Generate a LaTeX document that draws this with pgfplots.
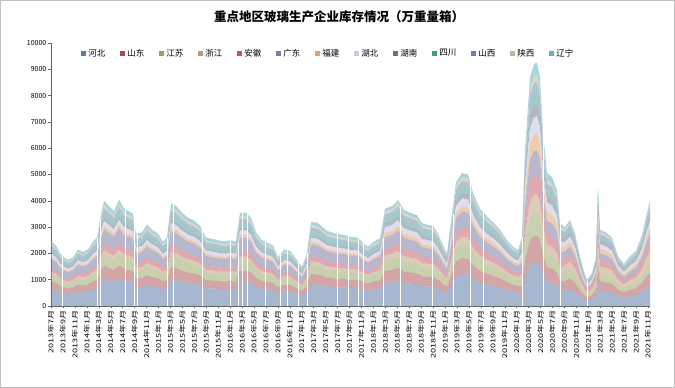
\documentclass[border=0pt]{standalone}
\usepackage{fontspec}
\setmainfont{Noto Sans CJK SC}
\usepackage{graphicx}
\usepackage{pgfplots}
\usepackage{pgfplotstable}
\pgfplotsset{compat=1.18}
\definecolor{hb}{HTML}{5E7BA8}
\definecolor{sd}{HTML}{A94B50}
\definecolor{js}{HTML}{8FA35C}
\definecolor{zj}{HTML}{B59A72}
\definecolor{ah}{HTML}{C8525E}
\definecolor{gd}{HTML}{7C7CA6}
\definecolor{fj}{HTML}{E3A36E}
\definecolor{hub}{HTML}{C9CADF}
\definecolor{hun}{HTML}{6B6B8E}
\definecolor{sc}{HTML}{3F9C8C}
\definecolor{sx}{HTML}{6682B8}
\definecolor{snx}{HTML}{B6BC92}
\definecolor{ln}{HTML}{5FB1C2}
\pgfplotstableread{
x hb sd js zj ah gd fj hub hun sc sx snx ln
51 637 294 245 123 147 343 74 123 74 123 98 74 98
56 598 276 230 115 138 322 69 115 69 115 92 69 92
60 520 240 200 100 120 280 60 100 60 100 80 60 80
64 481 222 185 93 111 259 56 93 56 93 74 56 74
68 455 210 175 88 105 245 53 88 53 88 70 53 70
73 481 222 185 93 111 259 56 93 56 93 74 56 74
78 559 258 215 108 129 301 65 108 65 108 86 65 86
83 533 246 205 103 123 287 62 103 62 103 82 62 82
88 559 258 215 108 129 301 65 108 65 108 86 65 86
93 637 294 245 123 147 343 74 123 74 123 98 74 98
97 676 312 260 130 156 364 78 130 78 130 104 78 104
100 858 396 330 165 198 462 99 165 99 165 132 99 132
104 1040 480 400 200 240 560 120 200 120 200 160 120 160
109 988 456 380 190 228 532 114 190 114 190 152 114 152
114 936 432 360 180 216 504 108 180 108 180 144 108 144
119 1053 486 405 203 243 567 122 203 122 203 162 122 162
124 962 444 370 185 222 518 111 185 111 185 148 111 148
129 936 432 360 180 216 504 108 180 108 180 144 108 144
133 910 420 350 175 210 490 105 175 105 175 140 105 140
136 715 330 275 138 165 385 83 138 83 138 110 83 110
142 728 336 280 140 168 392 84 140 84 140 112 84 112
147 806 372 310 155 186 434 93 155 93 155 124 93 124
152 754 348 290 145 174 406 87 145 87 145 116 87 116
158 715 330 275 138 165 385 83 138 83 138 110 83 110
163 637 294 245 123 147 343 74 123 74 123 98 74 98
167 676 312 260 130 156 364 78 130 78 130 104 78 104
171 1014 468 390 195 234 546 117 195 117 195 156 117 156
176 988 456 380 190 228 532 114 190 114 190 152 114 152
182 923 426 355 178 213 497 107 178 107 178 142 107 142
188 871 402 335 168 201 469 101 168 101 168 134 101 134
194 845 390 325 163 195 455 98 163 98 163 130 98 130
200 793 366 305 153 183 427 92 153 92 153 122 92 122
206 676 312 260 130 156 364 78 130 78 130 104 78 104
212 663 306 255 128 153 357 77 128 77 128 102 77 102
218 650 300 250 125 150 350 75 125 75 125 100 75 100
224 637 294 245 123 147 343 74 123 74 123 98 74 98
230 650 300 250 125 150 350 75 125 75 125 100 75 100
236 637 294 245 123 147 343 74 123 74 123 98 74 98
240 923 426 355 178 213 497 107 178 107 178 142 107 142
246 923 426 355 178 213 497 107 178 107 178 142 107 142
251 871 402 335 168 201 469 101 168 101 168 134 101 134
256 728 336 280 140 168 392 84 140 84 140 112 84 112
262 650 300 250 125 150 350 75 125 75 125 100 75 100
268 624 288 240 120 144 336 72 120 72 120 96 72 96
273 598 276 230 115 138 322 69 115 69 115 92 69 92
278 481 222 185 93 111 259 56 93 56 93 74 56 74
284 559 258 215 108 129 301 65 108 65 108 86 65 86
290 546 252 210 105 126 294 63 105 63 105 84 63 84
296 468 216 180 90 108 252 54 90 54 90 72 54 72
302 390 180 150 75 90 210 45 75 45 75 60 45 60
307 520 240 200 100 120 280 60 100 60 100 80 60 80
311 832 384 320 160 192 448 96 160 96 160 128 96 128
318 819 378 315 158 189 441 95 158 95 158 126 95 126
327 741 342 285 143 171 399 86 143 86 143 114 86 114
336 715 330 275 138 165 385 83 138 83 138 110 83 110
344 702 324 270 135 162 378 81 135 81 135 108 81 108
352 681 314 262 131 157 367 79 131 79 131 105 79 105
358 676 312 260 130 156 364 78 130 78 130 104 78 104
363 624 288 240 120 144 336 72 120 72 120 96 72 96
368 585 270 225 113 135 315 68 113 68 113 90 68 90
374 637 294 245 123 147 343 74 123 74 123 98 74 98
380 671 310 258 129 155 361 77 129 77 129 103 77 103
385 888 444 370 222 259 444 148 222 148 185 148 111 111
392 912 456 380 228 266 456 152 228 152 190 152 114 114
398 967 484 403 242 282 484 161 242 161 202 161 121 121
404 876 438 365 219 256 438 146 219 146 183 146 110 110
411 847 424 353 212 247 424 141 212 141 177 141 106 106
417 828 414 345 207 242 414 138 207 138 173 138 104 104
422 756 378 315 189 221 378 126 189 126 158 126 95 95
428 739 370 308 185 216 370 123 185 123 154 123 92 92
433 732 366 305 183 214 366 122 183 122 153 122 92 92
438 660 330 275 165 193 330 110 165 110 138 110 83 83
443 552 276 230 138 161 276 92 138 92 115 92 69 69
447 480 240 200 120 140 240 80 120 80 100 80 60 60
451 768 384 320 192 224 384 128 192 128 160 128 96 96
456 1128 564 470 282 329 564 188 282 188 235 188 141 141
462 1212 606 505 303 354 606 202 303 202 253 202 152 152
468 1200 600 500 300 350 600 200 300 200 250 200 150 150
473 1032 516 430 258 301 516 172 258 172 215 172 129 129
480 888 444 370 222 259 444 148 222 148 185 148 111 111
487 816 408 340 204 238 408 136 204 136 170 136 102 102
494 756 378 315 189 221 378 126 189 126 158 126 95 95
500 696 348 290 174 203 348 116 174 116 145 116 87 87
507 600 300 250 150 175 300 100 150 100 125 100 75 75
513 540 270 225 135 158 270 90 135 90 113 90 68 68
518 511 256 213 128 149 256 85 128 85 107 85 64 64
522 472 288 236 210 210 262 183 183 131 131 105 79 131
525 1062 649 531 472 472 590 413 413 295 295 236 177 295
530 1566 957 783 696 696 870 609 609 435 435 348 261 435
534 1656 1012 828 736 736 920 644 644 460 460 368 276 460
537 1665 1018 833 740 740 925 648 648 463 463 370 278 463
540 1566 957 783 696 696 870 609 609 435 435 348 261 435
543 1188 726 594 528 528 660 462 462 330 330 264 198 330
547 911 557 455 405 405 506 354 354 253 253 202 152 253
552 882 539 441 392 392 490 343 343 245 245 196 147 245
557 792 484 396 352 352 440 308 308 220 220 176 132 220
560 567 347 284 252 252 315 221 221 158 158 126 95 158
565 600 360 300 300 240 270 180 180 150 120 120 90 90
570 654 392 327 327 262 294 196 196 164 131 131 98 98
575 554 332 277 277 222 249 166 166 139 111 111 83 83
580 374 224 187 187 150 168 112 112 94 75 75 56 56
584 260 156 130 130 104 117 78 78 65 52 52 39 39
587 200 120 100 100 80 90 60 60 50 40 40 30 30
592 250 150 125 125 100 113 75 75 63 50 50 38 38
596 370 222 185 185 148 167 111 111 93 74 74 56 56
598 900 540 450 450 360 405 270 270 225 180 180 135 135
600 580 348 290 290 232 261 174 174 145 116 116 87 87
606 560 336 280 280 224 252 168 168 140 112 112 84 84
612 520 312 260 260 208 234 156 156 130 104 104 78 78
618 380 228 190 190 152 171 114 114 95 76 76 57 57
624 320 192 160 160 128 144 96 96 80 64 64 48 48
630 380 228 190 190 152 171 114 114 95 76 76 57 57
636 420 252 210 210 168 189 126 126 105 84 84 63 63
642 540 324 270 270 216 243 162 162 135 108 108 81 81
646 680 408 340 340 272 306 204 204 170 136 136 102 102
650 800 480 400 400 320 360 240 240 200 160 160 120 120
}\inv
\newcommand\XL[1]{\scalebox{1.4}[1]{#1}}
\begin{document}
\begin{tikzpicture}
\draw[gray!50, line width=0.6pt] (0.3pt,0.3pt) rectangle (674.7pt,387.7pt);
\node[font=\fontsize{12.5}{14}\selectfont\bfseries] at (339pt,371pt) {重点地区玻璃生产企业库存情况（万重量箱）};
\begin{axis}[
  at={(51pt,82pt)}, anchor=south west, scale only axis,
  width=599pt, height=263pt,
  xmin=51, xmax=650, ymin=0, ymax=10000,
  stack plots=y, no markers,
  axis x line*=bottom, axis y line*=left,
  axis line style={-, draw=gray!80!black, line width=0.5pt},
  tick align=outside, major tick length=2.5pt,
  tick style={gray!80!black, line width=0.4pt},
  ytick={0,1000,...,10000}, scaled y ticks=false,
  /pgf/number format/assume math mode=true,
  /pgf/number format/1000 sep={},
  yticklabel style={font=\fontsize{7}{8}\selectfont, inner sep=2pt},
  xtick={51,62.94,...,648.1},
  xticklabels={\XL{2013年7月},\XL{2013年9月},\XL{2013年11月},
  \XL{2014年1月},\XL{2014年3月},\XL{2014年5月},\XL{2014年7月},\XL{2014年9月},\XL{2014年11月},
  \XL{2015年1月},\XL{2015年3月},\XL{2015年5月},\XL{2015年7月},\XL{2015年9月},\XL{2015年11月},
  \XL{2016年1月},\XL{2016年3月},\XL{2016年5月},\XL{2016年7月},\XL{2016年9月},\XL{2016年11月},
  \XL{2017年1月},\XL{2017年3月},\XL{2017年5月},\XL{2017年7月},\XL{2017年9月},\XL{2017年11月},
  \XL{2018年1月},\XL{2018年3月},\XL{2018年5月},\XL{2018年7月},\XL{2018年9月},\XL{2018年11月},
  \XL{2019年1月},\XL{2019年3月},\XL{2019年5月},\XL{2019年7月},\XL{2019年9月},\XL{2019年11月},
  \XL{2020年1月},\XL{2020年3月},\XL{2020年5月},\XL{2020年7月},\XL{2020年9月},\XL{2020年11月},
  \XL{2021年1月},\XL{2021年3月},\XL{2021年5月},\XL{2021年7月},\XL{2021年9月},\XL{2021年11月}},
  xticklabel style={rotate=90, anchor=east, font=\fontsize{6.5}{7}\selectfont, inner sep=1.5pt},
  legend columns=13,
  legend style={at={(0.463,0.993)}, anchor=north, draw=none, fill=none,
    font=\fontsize{8.5}{10}\selectfont,
    /tikz/every even column/.append style={column sep=13pt}},
  legend image code/.code={\fill[#1, fill opacity=1] (0pt,-2.5pt) rectangle (5pt,2.5pt);},
]
\addplot[fill=hb, fill opacity=0.55, draw=none] table[x=x,y=hb]{\inv} \closedcycle;
\addplot[fill=sd, fill opacity=0.5, draw=none] table[x=x,y=sd]{\inv} \closedcycle;
\addplot[fill=js, fill opacity=0.5, draw=none] table[x=x,y=js]{\inv} \closedcycle;
\addplot[fill=zj, fill opacity=0.5, draw=none] table[x=x,y=zj]{\inv} \closedcycle;
\addplot[fill=ah, fill opacity=0.5, draw=none] table[x=x,y=ah]{\inv} \closedcycle;
\addplot[fill=gd, fill opacity=0.55, draw=none] table[x=x,y=gd]{\inv} \closedcycle;
\addplot[fill=fj, fill opacity=0.55, draw=none] table[x=x,y=fj]{\inv} \closedcycle;
\addplot[fill=hub, fill opacity=0.6, draw=none] table[x=x,y=hub]{\inv} \closedcycle;
\addplot[fill=hun, fill opacity=0.5, draw=none] table[x=x,y=hun]{\inv} \closedcycle;
\addplot[fill=sc, fill opacity=0.5, draw=none] table[x=x,y=sc]{\inv} \closedcycle;
\addplot[fill=sx, fill opacity=0.5, draw=none] table[x=x,y=sx]{\inv} \closedcycle;
\addplot[fill=snx, fill opacity=0.55, draw=none] table[x=x,y=snx]{\inv} \closedcycle;
\addplot[fill=ln, fill opacity=0.55, draw=none] table[x=x,y=ln]{\inv} \closedcycle;
\legend{河北,山东,江苏,浙江,安徽,广东,福建,湖北,湖南,四川,山西,陕西,辽宁}
\end{axis}
\begin{axis}[
  at={(51pt,82pt)}, anchor=south west, scale only axis,
  width=599pt, height=263pt,
  xmin=51, xmax=650, ymin=0, ymax=10000, hide axis]
\addplot[ycomb, white, line width=0.7pt, mark=none] coordinates {
(62,2000) (97,2600) (100,3300) (125,3700) (134,3500) (137,2750) (167,2600) (173,3900)
(202,3050) (230,2500) (238,2450) (242,3550) (247,3550) (265,2500) (280,2000) (287,2150)
(298,1800) (307,2000) (337,2750) (348,2700) (358,2600) (363,2400) (383,2600) (400,3800)
(432,3050) (453,3500) (470,4800) (483,3600) (522,2620) (543,6600) (560,3150) (587,1000)};
\end{axis}
\end{tikzpicture}
\end{document}
